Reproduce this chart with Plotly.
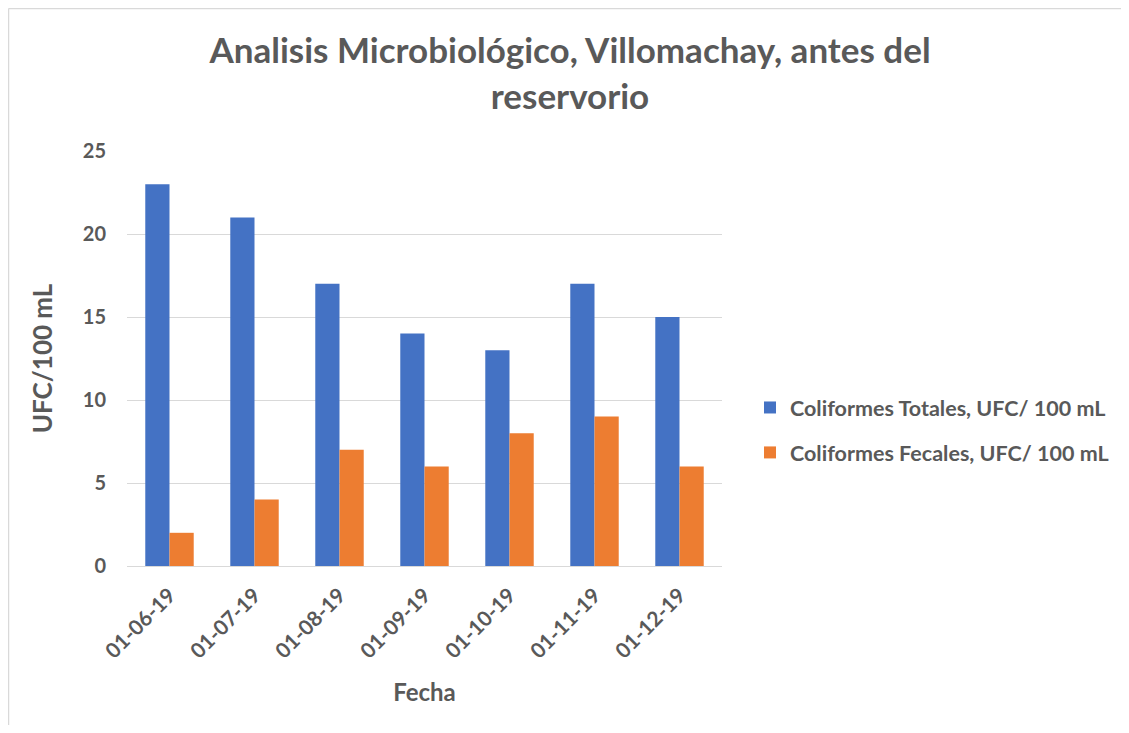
import plotly.graph_objects as go

fechas = ["01-06-19", "01-07-19", "01-08-19", "01-09-19", "01-10-19", "01-11-19", "01-12-19"]
totales = [23, 21, 17, 14, 13, 17, 15]
fecales = [2, 4, 7, 6, 8, 9, 6]

FONT = "Lato, 'Open Sans', sans-serif"
GRAY = "#595959"
OFF = 8  # default body margin of the page

fig = go.Figure()
fig.add_trace(go.Bar(x=fechas, y=totales, name="<b>Coliformes Totales, UFC/ 100 mL</b>",
                     legendgroup="a", marker=dict(color="#4472C4", line=dict(width=0))))
fig.add_trace(go.Bar(x=fechas, y=fecales, name="<b>Coliformes Fecales, UFC/ 100 mL</b>",
                     legendgroup="b", marker=dict(color="#ED7D31", line=dict(width=0))))

W, H = 1129 - 2 * OFF, 733 - 2 * OFF
L, R, T, B = 127 - OFF, 722 - OFF, 151 - OFF, 566 - OFF
pw, ph = R - L, B - T

fig.update_layout(
    width=W, height=H,
    margin=dict(l=L, r=W - R, t=T, b=H - B, autoexpand=False),
    paper_bgcolor="white", plot_bgcolor="white",
    barmode="group", bargap=0.43, bargroupgap=0,
    font=dict(family=FONT, color=GRAY, size=20),
    title=dict(text="<b>Analisis Microbiológico, Villomachay, antes del<br>reservorio</b>",
               x=(570 - OFF) / W, xanchor="center", y=1 - (63 - OFF) / H, yanchor="middle",
               font=dict(size=35, color=GRAY, family=FONT)),
    legend=dict(x=(750 - OFF - L) / pw, xanchor="left", y=(B - (430 - OFF)) / ph, yanchor="middle",
                font=dict(size=21.5, color=GRAY, family=FONT), itemsizing="constant",
                tracegroupgap=14, bgcolor="rgba(0,0,0,0)"),
    showlegend=True,
)
fig.update_yaxes(range=[0, 25], dtick=5, showgrid=True, gridcolor="#d9d9d9", gridwidth=1,
                 zeroline=True, zerolinecolor="#d9d9d9", zerolinewidth=1,
                 showline=False, ticks="", tickfont=dict(size=20, color=GRAY, family=FONT),
                 tickprefix="<b>", ticksuffix="</b>", ticklabelstandoff=20,
                 title=dict(text="<b>UFC/100 mL</b>", font=dict(size=26, color=GRAY, family=FONT),
                            standoff=22))
fig.update_xaxes(type="category", showgrid=False, showline=False, ticks="", tickangle=-45,
                 tickfont=dict(size=21, color=GRAY, family=FONT),
                 tickprefix="<b>", ticksuffix="</b>", ticklabelstandoff=12,
                 title=dict(text="<b>Fecha</b>", font=dict(size=24, color=GRAY, family=FONT),
                            standoff=22))

# chart frame: only top and left edges are visible in the reference
x_left = (0.5 - L) / pw
y_top = (B - 0.5) / ph
fig.add_shape(type="line", xref="paper", yref="paper",
              x0=x_left, x1=(W + 20 - L) / pw, y0=y_top, y1=y_top,
              line=dict(color="#d9d9d9", width=1.5), layer="below")
fig.add_shape(type="line", xref="paper", yref="paper",
              x0=x_left, x1=x_left, y0=y_top, y1=(B - (H + 20)) / ph,
              line=dict(color="#d9d9d9", width=1.5), layer="below")

fig.write_html("out.html")
